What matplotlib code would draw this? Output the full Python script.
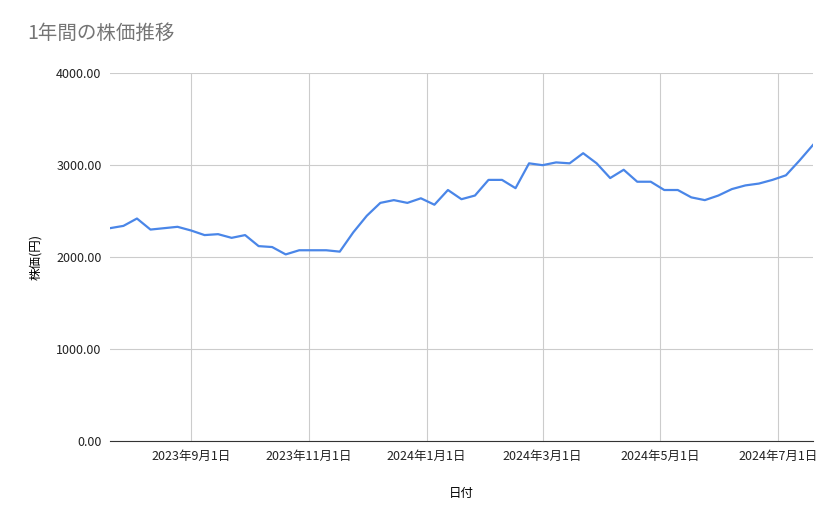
import matplotlib
matplotlib.use("Agg")
import matplotlib.pyplot as plt
import pandas as pd

plt.rcParams['font.family'] = ['Noto Sans CJK JP', 'DejaVu Sans']

dates = pd.date_range("2023-07-21", "2024-07-19", freq="7D")
prices = [2315, 2340, 2420, 2300, 2315, 2330, 2290, 2240, 2250, 2210, 2240, 2120, 2110,
          2030, 2075, 2075, 2075, 2060, 2270, 2450, 2590, 2620, 2590, 2640, 2570, 2730,
          2630, 2670, 2840, 2840, 2750, 3020, 3000, 3030, 3020, 3130, 3020, 2860, 2950,
          2820, 2820, 2730, 2730, 2650, 2620, 2670, 2740, 2780, 2800, 2840, 2890, 3050, 3220]
tick_dates = pd.to_datetime(["2023-09-01", "2023-11-01", "2024-01-01", "2024-03-01", "2024-05-01", "2024-07-01"])
tick_labels = ["2023年9月1日", "2023年11月1日", "2024年1月1日", "2024年3月1日", "2024年5月1日", "2024年7月1日"]
yticks = [0, 1000, 2000, 3000, 4000]

fig = plt.figure(figsize=(8.39, 5.19), dpi=100)
ax = fig.add_axes([0.131, 0.150, 0.838, 0.709])
ax.plot(dates, prices, color="#4a86e8", lw=1.6)
ax.set_xlim(dates[0], dates[-1])
ax.set_ylim(0, 4000)
ax.set_yticks(yticks)
ax.set_yticklabels([f"{v:.2f}" for v in yticks])
ax.set_xticks(tick_dates)
ax.set_xticklabels(tick_labels)
ax.grid(True, color="#cccccc", lw=0.8)
for s in ["top", "right", "left"]:
    ax.spines[s].set_visible(False)
ax.spines["bottom"].set_color("#333333")
ax.tick_params(length=0, labelsize=9, colors="#222222", pad=6)
ax.set_xlabel("日付", fontsize=9, labelpad=18)
ax.set_ylabel("株価(円)", fontsize=9, labelpad=10)
fig.text(0.033, 0.925, "1年間の株価推移", fontsize=14, color="#757575")
fig.savefig("out.png", dpi=100)
